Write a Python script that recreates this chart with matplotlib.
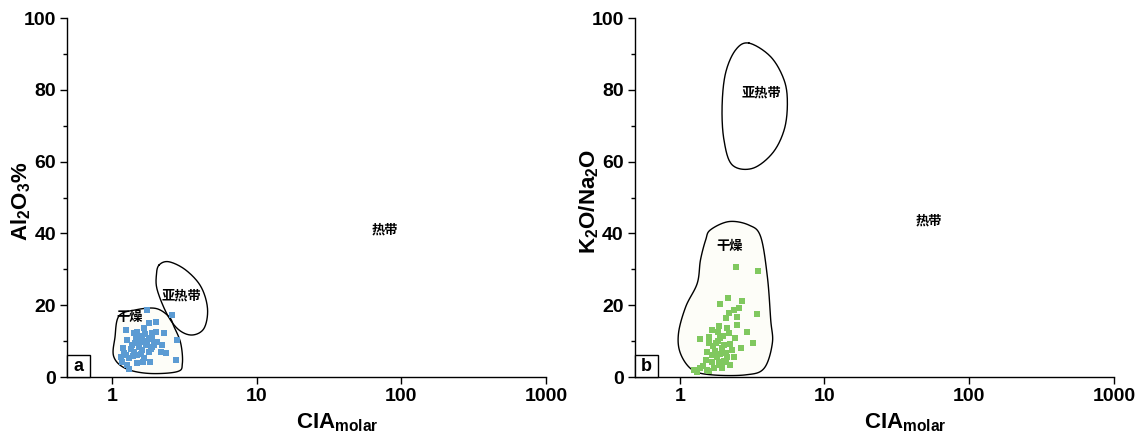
import numpy as np
import matplotlib
matplotlib.use('Agg')
import matplotlib.pyplot as plt
from matplotlib.patches import Rectangle

plt.rcParams['font.family'] = ['Liberation Sans', 'Noto Sans CJK SC', 'DejaVu Sans']
plt.rcParams['mathtext.fontset'] = 'custom'
plt.rcParams['mathtext.bf'] = 'Liberation Sans:bold'
plt.rcParams['mathtext.rm'] = 'Liberation Sans:bold'

# ---- data (CIA_molar vs Al2O3 %) ----
cia_a = [1.76, 2.62, 2.01, 1.80, 1.26, 1.50, 1.67, 2.01, 2.29, 1.28,
         1.46, 1.62, 1.80, 2.06, 2.81, 1.38, 1.54, 1.71, 1.90, 2.23,
         1.21, 1.42, 1.62, 1.80, 2.17, 1.15, 1.31, 1.50, 1.67, 2.36,
         2.79, 1.18, 1.28, 1.65, 1.83, 1.31, 1.50, 1.58, 1.90, 1.42,
         1.55, 1.65, 1.75, 1.45, 1.35, 1.60, 1.90, 1.70, 1.40, 1.25,
         1.85, 1.95, 1.50, 1.20]
al2o3 = [18.7, 17.3, 15.4, 15.1, 13.1, 12.6, 13.6, 12.6, 12.2, 10.3,
         10.8, 11.2, 10.8, 9.8, 10.3, 8.9, 8.4, 8.9, 8.4, 8.9,
         6.8, 7.1, 7.5, 7.1, 7.1, 5.7, 5.2, 6.1, 5.2, 6.6,
         4.7, 4.3, 3.3, 4.3, 4.3, 2.1, 3.8, 9.8, 12.2, 12.2,
         11.5, 10.0, 9.5, 9.5, 7.8, 6.5, 10.5, 12.0, 5.8, 6.2,
         7.8, 9.0, 10.2, 8.0]

# ---- data (CIA_molar vs K2O/Na2O) ----
cia_b = [2.46, 3.45, 2.16, 1.89, 2.68, 2.56, 2.37, 2.19, 2.07, 2.49,
         3.43, 1.88, 2.13, 2.49, 1.66, 2.93, 1.37, 1.59, 1.91, 2.19,
         2.40, 3.22, 1.59, 1.77, 2.02, 2.24, 2.63, 1.55, 1.75, 1.91,
         2.13, 2.37, 1.51, 1.67, 1.86, 2.02, 2.24, 1.25, 1.39, 1.55,
         1.72, 1.91, 2.07, 1.67, 1.96, 1.84, 1.32, 1.45, 1.80, 1.95,
         2.10, 1.70, 2.30, 1.60, 1.85, 2.00]
k2o_na2o = [30.7, 29.6, 22.1, 20.3, 21.2, 19.3, 18.7, 17.7, 16.5, 16.8,
            17.6, 14.2, 13.7, 14.4, 13.0, 12.5, 10.5, 11.2, 10.9, 12.2,
            10.9, 9.4, 9.4, 9.6, 8.9, 9.1, 8.2, 7.1, 7.2, 6.3,
            5.7, 5.7, 4.7, 4.3, 4.3, 4.5, 3.3, 2.0, 2.4, 2.0,
            2.6, 3.3, 4.1, 6.1, 8.0, 12.5, 1.5, 3.0, 5.5, 2.5,
            6.8, 8.5, 7.5, 1.8, 10.0, 11.5]

# ---- field boundaries (CIA, value) ----
dry_a_x = [1.12, 1.46, 2.01, 2.48, 2.69, 2.99, 3.07, 2.83, 1.80, 1.24, 1.03, 1.05]
dry_a_y = [17.0, 18.7, 19.1, 16.8, 14.0, 9.4, 3.8, 1.5, 1.0, 2.4, 5.7, 11.0]
sub_a_x = [2.12, 2.48, 3.24, 4.12, 4.58, 4.34, 3.60, 2.91, 2.42, 2.06, 2.03]
sub_a_y = [31.2, 32.1, 29.8, 25.2, 19.1, 13.6, 11.7, 13.1, 17.3, 24.2, 28.4]
dry_b_x = [1.63, 2.19, 3.01, 3.62, 4.03, 4.25, 4.36, 3.82, 2.85, 1.67, 1.22,
           1.01, 0.98, 1.10, 1.32, 1.39, 1.51]
dry_b_y = [41.0, 43.3, 42.3, 39.1, 27.9, 15.9, 9.4, 2.4, 0.6, 0.6, 2.0,
           6.6, 12.2, 19.6, 26.1, 32.6, 38.2]
sub_b_x = [3.01, 4.25, 5.26, 5.54, 5.26, 4.36, 3.17, 2.30, 2.02, 1.96, 2.07, 2.43]
sub_b_y = [93.0, 89.2, 82.7, 76.2, 68.8, 62.3, 58.1, 59.1, 66.0, 75.3, 84.6, 91.1]

# field names: (text, CIA, value)
fields_a = [('干燥', 1.33, 16.7), ('亚热带', 3.01, 22.8), ('热带', 76.7, 41.2)]
fields_b = [('干燥', 2.22, 36.5), ('亚热带', 3.64, 79.1), ('热带', 52.3, 43.5)]


def smooth_closed(xs, ys, n=30):
    # closed Catmull-Rom curve through the outline vertices, in log-x space
    lx = np.log10(np.array(xs, float))
    y = np.array(ys, float)
    m = len(lx)
    out_x, out_y = [], []
    t = np.linspace(0, 1, n, endpoint=False)
    for i in range(m):
        p0 = np.array([lx[i - 1], y[i - 1]])
        p1 = np.array([lx[i], y[i]])
        p2 = np.array([lx[(i + 1) % m], y[(i + 1) % m]])
        p3 = np.array([lx[(i + 2) % m], y[(i + 2) % m]])
        for tt in t:
            pt = 0.5 * ((2 * p1) + (-p0 + p2) * tt
                        + (2 * p0 - 5 * p1 + 4 * p2 - p3) * tt ** 2
                        + (-p0 + 3 * p1 - 3 * p2 + p3) * tt ** 3)
            out_x.append(pt[0])
            out_y.append(pt[1])
    out_x.append(out_x[0])
    out_y.append(out_y[0])
    return 10 ** np.array(out_x), np.array(out_y)


fig = plt.figure(figsize=(11.48, 4.36), dpi=100)
ax_a = fig.add_axes([0.0584, 0.1353, 0.4172, 0.8234])
ax_b = fig.add_axes([0.5531, 0.1353, 0.4172, 0.8234])

panels = [
    (ax_a, cia_a, al2o3, '#5b9bd3', dry_a_x, dry_a_y, sub_a_x, sub_a_y, fields_a,
     r'$\mathbf{Al_2O_3\%}$', 'a'),
    (ax_b, cia_b, k2o_na2o, '#80c85f', dry_b_x, dry_b_y, sub_b_x, sub_b_y, fields_b,
     r'$\mathbf{K_2O/Na_2O}$', 'b'),
]

for ax, xs, ys, col, dx, dy, sx, sy, fields, ylab, tag in panels:
    ax.set_xscale('log')
    ax.set_xlim(0.49, 1000)
    ax.set_ylim(0, 100)

    bx, by = smooth_closed(dx, dy)
    ax.fill(bx, by, facecolor='#fdfdf8', edgecolor='black', linewidth=1.0, zorder=1)
    ex, ey = smooth_closed(sx, sy)
    ax.plot(ex, ey, color='black', linewidth=1.0, zorder=1)

    ax.scatter(xs, ys, marker='s', s=25, color=col, linewidths=0, zorder=3)

    for name, fx, fy in fields:
        ax.text(fx, fy, name, fontsize=9.5, fontweight='bold', ha='center', va='center',
                family=['Noto Sans CJK SC', 'DejaVu Sans'], zorder=4)

    # panel tag box
    ax.add_patch(Rectangle((0, 0), 0.048, 0.061, transform=ax.transAxes,
                           facecolor='white', edgecolor='black', linewidth=1.0,
                           zorder=5, clip_on=False))
    ax.text(0.024, 0.030, tag, transform=ax.transAxes, fontsize=13,
            fontweight='bold', ha='center', va='center', zorder=6)

    for side in ['top', 'right']:
        ax.spines[side].set_visible(False)
    for side in ['left', 'bottom']:
        ax.spines[side].set_linewidth(1.0)

    ax.set_xticks([1, 10, 100, 1000])
    ax.set_xticklabels(['1', '10', '100', '1000'])
    ax.xaxis.set_minor_locator(matplotlib.ticker.NullLocator())
    ax.set_yticks(np.arange(0, 101, 20))
    ax.set_yticks(np.arange(10, 100, 20), minor=True)
    ax.tick_params(axis='both', which='major', direction='out', length=5, width=1.0,
                   labelsize=14, pad=3)
    ax.tick_params(axis='y', which='minor', direction='out', length=3, width=1.0)
    for lbl in ax.get_xticklabels() + ax.get_yticklabels():
        lbl.set_fontweight('bold')

    ax.set_xlabel(r'$\mathbf{CIA_{molar}}$', fontsize=16)
    ax.xaxis.set_label_coords(0.565, -0.095)
    ax.set_ylabel(ylab, fontsize=16)
    ax.yaxis.set_label_coords(-0.071, 0.49)

fig.savefig('out.png', dpi=100)
